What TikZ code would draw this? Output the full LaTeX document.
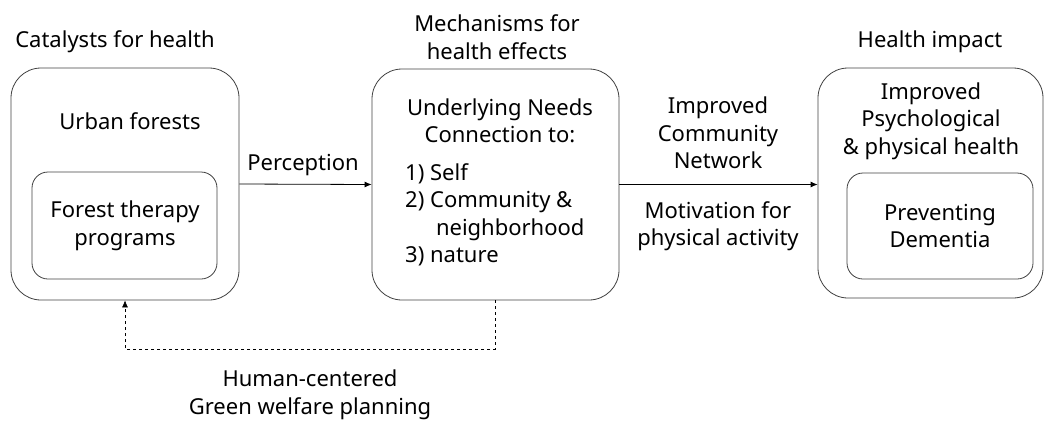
\documentclass[tikz,border=0pt]{standalone}
\usepackage{fontspec}
\setmainfont{Noto Sans}
\usepackage{tikz}
\usetikzlibrary{positioning}
\usetikzlibrary{arrows.meta}

\tikzset{
  outerbox/.style={draw=black!75, rounded corners=30pt, line width=0.8pt},
  innerbox/.style={draw=black!75, rounded corners=16pt, line width=0.8pt},
  txt/.style={align=center, inner sep=0pt, font=\fontsize{22}{27.5}\selectfont},
  flow/.style={-{Latex[length=7pt,width=6pt]}, line width=0.8pt},
}

\begin{document}
\begin{tikzpicture}[x=1pt,y=-1pt]
\useasboundingbox (0,0) rectangle (1045,421);

% the three main boxes
\node[outerbox, minimum width=228, minimum height=232] (catalyst) at (125,184) {};
\node[innerbox, minimum width=185, minimum height=107] (therapy) at (124.5,225.5) {};
\node[outerbox, minimum width=247, minimum height=231] (mech) at (495.5,184.5) {};
\node[outerbox, minimum width=225, minimum height=230] (impact) at (930.5,183) {};
\node[innerbox, minimum width=186, minimum height=106] (dementia) at (940,226) {};

% headings above the boxes
\node[txt] (catalysthead) at (115,42) {Catalysts for health};
\node[txt] (mechhead) at (497,37) {Mechanisms for\\health effects};
\node[txt] (impacthead) at (930,42) {Health impact};

% box contents
\node[txt] (urban) at (130,121) {Urban forests};
\node[txt] (programs) at (125,226) {Forest therapy\\programs};
\node[txt] (needs) at (500,121) {Underlying Needs\\Connection to:};
\node[txt, align=left, anchor=north west] (list) at (405,163)
  {1) Self\\2) Community \&\\\hspace*{1.4em}neighborhood\\3) nature};
\node[txt] (health) at (931,121) {Improved\\Psychological\\\& physical health};
\node[txt] (prevent) at (940,226) {Preventing\\Dementia};

% connectors
\draw[flow] (catalyst.east) -- (mech.west);
\node[txt] (perception) at (303,165) {Perception};
\draw[flow] (mech.east) -- (mech.east -| impact.west);
\node[txt] (network) at (718,133) {Improved\\Community\\Network};
\node[txt] (motivation) at (718,226) {Motivation for\\physical activity};

% feedback loop
\coordinate (loop) at (496,349);
\draw[flow, dashed, line width=0.6pt] (mech.south) -- (mech.south |- loop) -| (catalyst.south);
\node[txt] (planning) at (310,395) {Human-centered\\Green welfare planning};
\end{tikzpicture}
\end{document}
